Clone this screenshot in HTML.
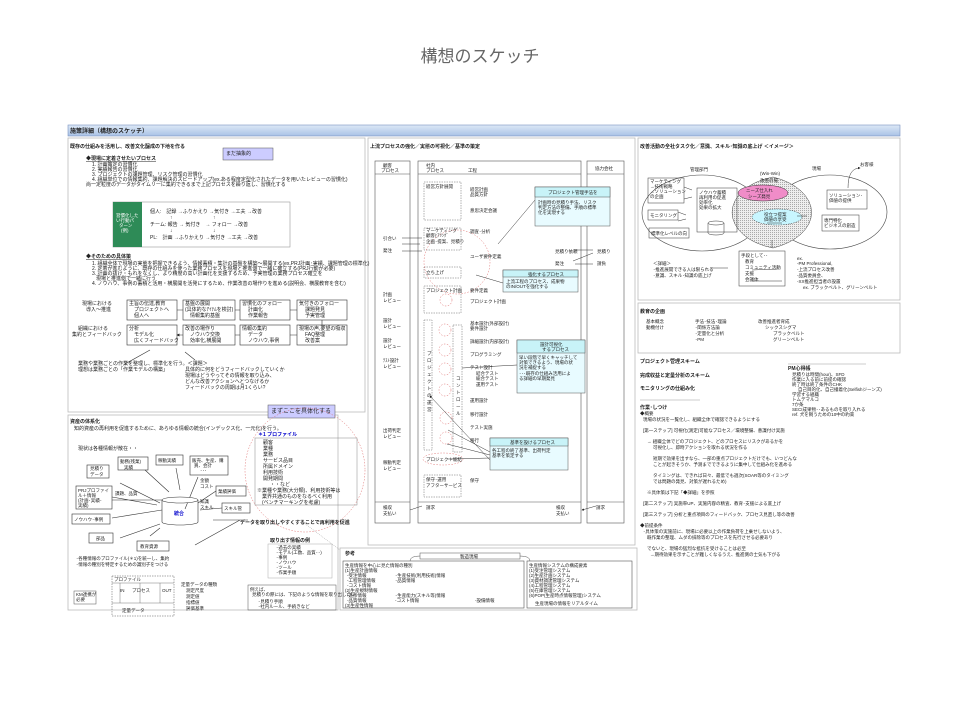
<!DOCTYPE html>
<html><head><meta charset="utf-8"><style>
html,body{margin:0;padding:0;background:#fff;width:960px;height:720px;overflow:hidden}
svg{display:block}
text{font-family:"Liberation Sans","Noto Sans CJK JP",sans-serif;font-size:5px;fill:#222}
.b{font-weight:bold}
.s{font-size:4.5px}
</style></head><body>
<svg width="960" height="720" viewBox="0 0 960 720" xmlns="http://www.w3.org/2000/svg">
<defs>
<marker id="a" markerWidth="5" markerHeight="5" refX="4" refY="2.5" orient="auto"><path d="M0,0L5,2.5L0,5z" fill="#222"/></marker>
<pattern id="h" width="2" height="2" patternUnits="userSpaceOnUse"><rect width="2" height="2" fill="#eee"/><rect width="1" height="1" fill="#aaa"/></pattern>
<linearGradient id="g" x1="0" y1="0" x2="0" y2="1"><stop offset="0" stop-color="#dde8f6"/><stop offset="1" stop-color="#a9c2e6"/></linearGradient>
</defs>
<text x="480" y="62" text-anchor="middle" style="font-size:17px;fill:#666">構想のスケッチ</text>

<!-- header bar -->
<rect x="68" y="125" width="832" height="11" fill="url(#g)" stroke="#7a93c0" stroke-width="0.6"/>
<text x="70" y="133" class="b" style="font-size:6px">施策詳細（構想のスケッチ）</text>

<g fill="none" stroke="#bbb" stroke-width="0.8">
<rect x="68" y="138" width="297" height="274"/>
<rect x="68" y="415" width="270" height="195"/>
<rect x="368" y="138" width="267" height="407"/>
<rect x="340" y="548" width="297" height="62"/>
<rect x="638" y="138" width="262" height="162"/>
<rect x="638" y="303" width="262" height="50"/>
</g>

<!-- ============ LEFT TOP ============ -->
<text x="70" y="148" class="b">既存の仕組みを活用し、改善文化醸成の下地を作る</text>
<rect x="223" y="148" width="50" height="12" fill="#ccccff" stroke="#555" stroke-width="0.5"/>
<text x="226" y="155">まだ抽象的</text>
<text x="86" y="160" class="b" text-decoration="underline">◆現場に定着させたいプロセス</text>
<text x="92" y="166">1. 計画策定の習慣化</text>
<text x="92" y="171">2. 実績報告の習慣化</text>
<text x="92" y="176">3. プロジェクトの課題管理、リスク管理の習慣化</text>
<text x="92" y="181">4. 組織単位での情報集約、課題解決のスピードアップ(ex.ある程度定型化されたデータを用いたレビューの習慣化)</text>
<text x="86" y="186">尚一定粒度のデータがタイムリーに集約できるまで上記プロセスを繰り返し、習慣化する</text>
<rect x="113" y="202" width="177" height="45" fill="none" stroke="#999" stroke-width="0.6"/>
<rect x="113" y="202" width="29" height="45" fill="#2e8b57"/>
<text x="116" y="217" style="fill:#fff" class="s">習慣化した</text>
<text x="116" y="222" style="fill:#fff" class="s">い行動パ</text>
<text x="119" y="227" style="fill:#fff" class="s">ターン</text>
<text x="121" y="232" style="fill:#fff" class="s">(例)</text>
<text x="150" y="213">個人:　記録 →ふりかえり →気付き →工夫 →改善</text>
<text x="150" y="226">チーム: 報告 → 気付き　→ フォロー →改善</text>
<text x="150" y="239">PL:　計画 →ふりかえり →気付き →工夫 →改善</text>
<text x="170" y="219">↑</text><text x="213" y="219">↑</text>
<text x="170" y="232">↓</text><text x="213" y="232">↓</text>
<text x="86" y="258" class="b" text-decoration="underline">◆そのための具体策</text>
<text x="92" y="265">1. 組織全体で現場の実態を把握できるよう、情報蓄積・集計の基盤を構築～展開する(ex.PRJ計画･実績、課題管理の標準化)</text>
<text x="92" y="270">2. 定着が進むように、既存の仕組みを使った業務プロセスを現場と推進側で一緒に確立する(PRJ行動が必要)</text>
<text x="92" y="275">3. 計画の抜け・もれをなくし、より精度の高い計画化を支援するため、予実管理の業務プロセス確立を</text>
<text x="96" y="280">現場と推進側で一緒に行う</text>
<text x="92" y="285">4. ノウハウ、事例の蓄積と活用・横展開を活発にするため、作業改善の場作りを進める(説明会、横展教育を含む)</text>
<g fill="none" stroke="#333" stroke-width="0.6">
<rect x="127" y="300" width="50" height="20"/><rect x="183" y="300" width="52" height="20"/><rect x="240" y="300" width="50" height="20"/><rect x="297" y="300" width="50" height="20"/>
<rect x="127" y="325" width="50" height="20"/><rect x="183" y="325" width="52" height="20"/><rect x="240" y="325" width="50" height="20"/><rect x="297" y="325" width="50" height="20"/>
<path d="M177 310h6M235 310h5M290 310h7M322 320v5M297 335h-7M240 335h-5M183 335h-6" marker-end="url(#a)"/>
<path d="M150 350l-25 14M185 352l10 8"/>
</g>
<text x="82" y="305">現場における</text><text x="86" y="311">導入〜推進</text>
<text x="78" y="330">組織における</text><text x="72" y="336">集約とフィードバック</text>
<text x="129" y="305">主旨の伝達,教育</text><text x="134" y="311">プロジェクトへ</text><text x="134" y="317">個人へ</text>
<text x="185" y="305">基盤の展開</text><text x="185" y="311">(具体的なｱｲﾃﾑを検討)</text><text x="190" y="317">情報集約基盤</text>
<text x="242" y="305">習慣化のフォロー</text><text x="248" y="311">計画化</text><text x="248" y="317">作業報告</text>
<text x="299" y="305">気付きのフォロー</text><text x="305" y="311">課題発見</text><text x="305" y="317">予実管理</text>
<text x="129" y="330">分析</text><text x="134" y="336">モデル化</text><text x="134" y="342">広くフィードバック</text>
<text x="185" y="330">改善の場作り</text><text x="190" y="336">ノウハウ交換</text><text x="190" y="342">効率化,横展開</text>
<text x="242" y="330">情報の集約</text><text x="248" y="336">データ</text><text x="248" y="342">ノウハウ,事例</text>
<text x="299" y="330">現場の声,要望の吸収</text><text x="305" y="336">FAQ整理</text><text x="305" y="342">改善案</text>
<text x="78" y="365">業務や業務ごとの作業を整理し、標準化を行う。＜課題＞</text>
<text x="78" y="371">理想は業務ごとの「作業モデルの構築」</text>
<text x="185" y="371">具体的に何をどうフィードバックしていくか</text>
<text x="185" y="377">現場はどうやってその情報を取り込み、</text>
<text x="185" y="383">どんな改善アクションへとつなげるか</text>
<text x="185" y="389">フィードバックの周期は月1くらい?</text>

<!-- ============ LEFT BOTTOM ============ -->
<text x="70" y="423" class="b">資産の体系化</text>
<text x="74" y="430">知的資産の再利用を促進するために、あらゆる情報の統合(インデックス化、一元化)を行う。</text>
<rect x="268" y="405" width="67" height="13" fill="#ccccff" stroke="#555" stroke-width="0.5"/>
<text x="271" y="413" style="font-size:6px">まずここを具体化する</text>
<ellipse cx="305" cy="470" rx="60" ry="62" fill="none" stroke="#d66" stroke-width="0.5" stroke-dasharray="1.5,1.5"/>
<text x="258" y="436" class="b" style="fill:#0000cc">＊1 プロファイル</text>
<rect x="255" y="438" width="102" height="67" fill="none" stroke="#888" stroke-width="0.5"/>
<text x="263" y="444">顧客</text><text x="263" y="450">業種</text><text x="263" y="456">業務</text><text x="263" y="462">サービス品目</text><text x="263" y="468">所属ドメイン</text><text x="263" y="474">利用技術</text><text x="263" y="480">開発期間</text><text x="270" y="486">・・など</text>
<text x="257" y="492">※業種や業務(大分類)、利用技術等は</text>
<text x="262" y="498">業界共通のものをなるべく利用</text>
<text x="262" y="504">(ベンチマーキングを考慮)</text>
<text x="78" y="450">現状は各種情報が散在・・</text>
<g fill="none" stroke="#333" stroke-width="0.6">
<rect x="87" y="465" width="22" height="13"/><rect x="118" y="457" width="30" height="13"/><rect x="156" y="455" width="27" height="10"/><rect x="190" y="456" width="38" height="19"/>
<rect x="76" y="486" width="36" height="23"/><rect x="72" y="514" width="38" height="10"/><rect x="89" y="533" width="24" height="10"/>
<rect x="137" y="541" width="32" height="10"/><rect x="216" y="486" width="30" height="10"/><rect x="222" y="503" width="28" height="10"/>
<path d="M162 500v22M198 500v22"/>
<path d="M120 483l40 20M145 470l24 22M176 468l4 22M198 477l-13 32M112 497l45 8M112 500h50M112 518l50-8M120 538l40-14M160 528l-10 8M216 491l-18 12M222 508l-22 2M213 520h35M195 545l45-25"/>
</g>
<ellipse cx="180" cy="500" rx="18" ry="3" fill="#fff" stroke="#333" stroke-width="0.6"/>
<path d="M162 522a18 3 0 0 0 36 0" fill="none" stroke="#333" stroke-width="0.6"/>
<text x="174" y="515" class="b" style="fill:#0000cc">統合</text>
<text x="90" y="470" class="s">見積り</text><text x="90" y="476" class="s">データ</text>
<text x="120" y="463" class="s">動務(残業)</text><text x="124" y="469" class="s">実績</text>
<text x="158" y="462" class="s">稼動実績</text>
<text x="192" y="462" class="s">販売、生産、購</text><text x="194" y="467" class="s">買、会計</text><text x="200" y="472" class="s">･･･</text>
<text x="78" y="492" class="s">PRJプロファイ</text><text x="78" y="497" class="s">ル＋情報</text><text x="78" y="502" class="s">(計画･実績･</text><text x="78" y="507" class="s">実績)</text>
<text x="115" y="495" class="s">課題、品質</text>
<text x="74" y="521" class="s">ノウハウ･事例</text><text x="96" y="540" class="s">部品</text><text x="140" y="548" class="s">教育資源</text>
<text x="200" y="482" class="s">金額</text><text x="200" y="488" class="s">コスト</text><text x="218" y="493" class="s">業績評価</text>
<text x="200" y="503" class="s">知識</text><text x="200" y="509" class="s">スキル</text><text x="224" y="510" class="s">スキル管</text>
<text x="240" y="524" class="b">データを取り出しやすくすることで再利用を促進</text>
<text x="76" y="560" class="s">･各種情報のプロファイル(＊1)を統一し、集約</text>
<text x="76" y="566" class="s">･情報の種別を特定するための識別子をつける</text>
<text x="270" y="542" class="b">取り出す情報の例</text>
<rect x="268" y="544" width="64" height="34" fill="none" stroke="#aaa" stroke-width="0.5"/>
<text x="276" y="549" class="s">･過去の実績</text><text x="276" y="554" class="s">･モデル(工数、品質･･)</text><text x="276" y="559" class="s">･事例</text><text x="276" y="564" class="s">･ノウハウ</text><text x="276" y="569" class="s">･ツール</text><text x="276" y="574" class="s">･作業手順</text>
<rect x="248" y="585" width="88" height="25" fill="none" stroke="#555" stroke-width="0.5"/>
<text x="250" y="591" class="s">例えば、</text><text x="252" y="596" class="s">見積りの際には、下記のような情報を取り出したい</text>
<text x="258" y="603" class="s">･見積り手順</text><text x="258" y="608" class="s">･社内ルール、手続きなど</text>
<rect x="112" y="576" width="62" height="40" fill="none" stroke="#555" stroke-width="0.5" stroke-dasharray="1.5,1"/>
<path d="M112 583h62M120 583v20M140 583v20M160 583v20M112 603h62" fill="none" stroke="#555" stroke-width="0.4"/>
<text x="114" y="581" class="s">プロファイル</text><text x="120" y="592" class="s">IN</text><text x="132" y="592" class="s">プロセス</text><text x="162" y="592" class="s">OUT</text>
<text x="122" y="612" class="s">定量データ</text>
<rect x="74" y="591" width="22" height="13" fill="none" stroke="#555" stroke-width="0.5"/>
<text x="76" y="596" class="s">KM連携が</text><text x="76" y="601" class="s">必要</text>
<text x="181" y="586" class="s">定量データの種類</text>
<text x="186" y="592" class="s">測定尺度</text><text x="186" y="598" class="s">測定値</text><text x="186" y="604" class="s">指標値</text><text x="186" y="610" class="s">評価基準</text>

<!-- ============ MIDDLE ============ -->
<text x="370" y="148" class="b">上流プロセスの強化／実態の可視化／基準の策定</text>
<g fill="none" stroke="#555" stroke-width="0.6">
<rect x="375" y="161" width="35" height="362"/><rect x="418" y="161" width="163" height="362"/><rect x="587" y="161" width="37" height="362"/>
<path d="M375 174h35M418 174h163M587 174h37M375 502h35M418 502h163M587 502h37"/>
</g>
<text x="383" y="167" class="s">顧客</text><text x="381" y="172" class="s">プロセス</text>
<text x="426" y="167" class="s">社内</text><text x="426" y="172" class="s">プロセス</text><text x="468" y="172" class="s">工程</text>
<text x="595" y="170" class="s">協力会社</text>
<g fill="none" stroke="#666" stroke-width="0.5" stroke-dasharray="1.5,1">
<rect x="424" y="182" width="37" height="38"/><rect x="424" y="228" width="37" height="22"/><rect x="424" y="267" width="37" height="11"/><rect x="424" y="286" width="37" height="27"/>
<rect x="424" y="320" width="8" height="130"/><rect x="453" y="325" width="9" height="127"/><rect x="424" y="475" width="37" height="22"/>
</g>
<g fill="none" stroke="#d66" stroke-width="0.5" stroke-dasharray="1.5,1.5">
<ellipse cx="457" cy="262" rx="33" ry="32"/>
<circle cx="446" cy="300" r="6"/><circle cx="445" cy="330" r="6"/><circle cx="445" cy="350" r="6"/><circle cx="445" cy="369" r="6"/><circle cx="445" cy="390" r="6"/><circle cx="446" cy="418" r="6"/><circle cx="446" cy="438" r="6"/>
<ellipse cx="443" cy="459" rx="20" ry="6"/>
</g>
<text x="426" y="188" class="s">経営方針展開</text><text x="426" y="232" class="s">マーケティング</text><text x="426" y="237" class="s">顧客ﾋｱﾘﾝｸﾞ</text><text x="426" y="243" class="s">企画･提案、見積り</text>
<text x="426" y="274" class="s">立ち上げ</text><text x="426" y="292" class="s">プロジェクト計画</text><text x="426" y="461" class="s">プロジェクト総結</text>
<text x="426" y="481" class="s">保守･運用</text><text x="426" y="487" class="s">アフターサービス</text>
<text x="470" y="191" class="s">経営計画</text><text x="470" y="196" class="s">品質方針</text><text x="470" y="212" class="s">意思決定会議</text>
<text x="470" y="233" class="s">調査･分析</text><text x="470" y="258" class="s">ユーザ要件定義</text><text x="470" y="292" class="s">要件定義</text><text x="470" y="303" class="s">プロジェクト計画</text>
<text x="470" y="325" class="s">基本設計(外部設計)</text><text x="470" y="330" class="s">要件設計</text><text x="470" y="343" class="s">詳細設計(内部設計)</text><text x="470" y="356" class="s">プログラミング</text>
<text x="470" y="369" class="s">テスト設計</text><text x="476" y="375" class="s">結合テスト</text><text x="476" y="380" class="s">総合テスト</text><text x="476" y="386" class="s">運用テスト</text>
<text x="470" y="402" class="s">運用設計</text><text x="470" y="416" class="s">移行設計</text><text x="470" y="429" class="s">テスト実施</text><text x="470" y="442" class="s">移行</text><text x="470" y="482" class="s">保守</text>
<text x="383" y="240" class="s">引合い</text><text x="383" y="252" class="s">発注</text>
<text x="383" y="296" class="s">計画</text><text x="383" y="302" class="s">レビュー</text>
<text x="383" y="322" class="s">設計</text><text x="383" y="328" class="s">レビュー</text><text x="383" y="342" class="s">設計</text><text x="383" y="348" class="s">レビュー</text>
<text x="383" y="362" class="s">ﾃｽﾄ設計</text><text x="383" y="368" class="s">レビュー</text>
<text x="383" y="432" class="s">出荷判定</text><text x="383" y="438" class="s">レビュー</text><text x="383" y="464" class="s">稼動判定</text><text x="383" y="470" class="s">レビュー</text>
<text x="383" y="509" class="s">検収</text><text x="383" y="515" class="s">支払い</text><text x="426" y="509" class="s">請求</text>
<text x="556" y="509" class="s">検収</text><text x="556" y="515" class="s">支払い</text><text x="596" y="509" class="s">請求</text>
<text x="555" y="253" class="s">見積り依頼</text><text x="597" y="253" class="s">見積り</text><text x="555" y="265" class="s">発注</text><text x="597" y="265" class="s">請負</text>
<text x="427" y="355" class="s">プ</text><text x="427" y="362" class="s">ロ</text><text x="427" y="369" class="s">ジ</text><text x="427" y="376" class="s">ェ</text><text x="427" y="383" class="s">ク</text><text x="427" y="390" class="s">ト</text><text x="427" y="397" class="s">の</text><text x="427" y="404" class="s">運</text><text x="427" y="411" class="s">営</text>
<text x="456" y="380" class="s">コ</text><text x="456" y="387" class="s">ン</text><text x="456" y="394" class="s">ト</text><text x="456" y="401" class="s">ロ</text><text x="456" y="408" class="s">ー</text><text x="456" y="415" class="s">ル</text>
<g fill="none" stroke="#333" stroke-width="0.5">
<path d="M402 238h20M420 244h-18M402 251h20M575 250h18M593 253l-20 8M575 264h18M422 506l-12 4M596 506l-14 4" marker-end="url(#a)"/>
<path d="M535 200l-37 44M503 283l-27-8M517 365l-55 3M490 452l-42 -22M490 455l-43-11M490 458l-42 1M490 460l-60-64" marker-end="url(#a)"/>
</g>
<g stroke="#555" stroke-width="0.5">
<rect x="535" y="187" width="75" height="39" fill="#e8fbff"/><rect x="535" y="187" width="75" height="10" fill="#c8f3f8"/>
<rect x="503" y="270" width="75" height="22" fill="#e8fbff"/><rect x="503" y="270" width="75" height="7" fill="#c8f3f8"/>
<rect x="517" y="340" width="68" height="53" fill="#e8fbff"/><rect x="517" y="340" width="68" height="13" fill="#c8f3f8"/>
<rect x="490" y="438" width="78" height="32" fill="#e8fbff"/><rect x="490" y="438" width="78" height="8" fill="#c8f3f8"/>
</g>
<text x="548" y="194" class="s">プロジェクト管理手法を</text>
<text x="538" y="204" class="s">計画時の見積り手法、リスク</text><text x="538" y="209" class="s">判定方法の整備、手順の標準</text><text x="538" y="214" class="s">化を実現する</text>
<text x="528" y="276" class="s">強化するプロセス</text>
<text x="506" y="283" class="s">上流工程のプロセス、成果物</text><text x="506" y="288" class="s">のIN/OUTを強化する</text>
<text x="540" y="346" class="s">設計可視化</text><text x="542" y="351" class="s">するプロセス</text>
<text x="519" y="359" class="s">早い段階で早くキャッチして</text><text x="519" y="364" class="s">対策できるよう、現場の状</text><text x="519" y="369" class="s">況を補捉する</text><text x="519" y="375" class="s">･･･既存の仕組み活用によ</text><text x="519" y="380" class="s">る詳細の早期発見</text>
<text x="510" y="444" class="s">基準を設けるプロセス</text>
<text x="492" y="452" class="s">各工程の終了基準、出荷判定</text><text x="492" y="457" class="s">基準を策定する</text>

<!-- reference -->
<path d="M300 520 L340 550" stroke="#777" stroke-width="0.4" stroke-dasharray="1,1" fill="none"/>
<text x="345" y="555" class="b">参考</text>
<rect x="420" y="553" width="100" height="6" fill="#fff" stroke="#555" stroke-width="0.5"/>
<text x="460" y="558" class="s">製造現場</text>
<path d="M420 556q-10 0-10 5M520 556q10 0 10 5" fill="none" stroke="#555" stroke-width="0.5"/>
<rect x="343" y="561" width="181" height="47" fill="none" stroke="#555" stroke-width="0.6"/>
<rect x="527" y="561" width="105" height="47" fill="none" stroke="#555" stroke-width="0.6"/>
<text x="345" y="567" class="s">生産情報を中心に見た情報の種別</text>
<text x="345" y="572" class="s">(1)生産計画情報</text>
<text x="347" y="577" class="s">-受注情報</text><text x="395" y="577" class="s">･生産技術(利用技術)情報</text>
<text x="347" y="582" class="s">-工程管理情報</text><text x="395" y="582" class="s">･品質情報</text>
<text x="347" y="587" class="s">-コスト情報</text>
<text x="345" y="592" class="s">(2)生産規制情報</text>
<text x="347" y="597" class="s">-進捗情報</text><text x="395" y="597" class="s">･生産能力(スキル等)情報</text>
<text x="347" y="602" class="s">-品質情報</text><text x="395" y="602" class="s">-コスト情報</text><text x="475" y="602" class="s">-設備情報</text>
<text x="345" y="607" class="s">(3)生産性情報</text>
<text x="529" y="567" class="s">生産情報システムの構成要素</text>
<text x="529" y="572" class="s">(1)受注管理システム</text><text x="529" y="577" class="s">(2)生産計画システム</text><text x="529" y="582" class="s">(3)資材調達管理システム</text>
<text x="529" y="587" class="s">(4)工程管理システム</text><text x="529" y="592" class="s">(5)在庫管理システム</text><text x="529" y="597" class="s">(6)POP(生産時点情報管理)システム</text>
<text x="535" y="605" class="s">生産現場の情報をリアルタイム</text>

<!-- ============ RIGHT ============ -->
<text x="640" y="148" class="b">改善活動の全社タスク化／意識、スキル･知識の底上げ ＜イメージ＞</text>
<ellipse cx="702" cy="213" rx="60" ry="38" fill="none" stroke="#444" stroke-width="0.6"/>
<ellipse cx="830" cy="212" rx="57" ry="37" fill="none" stroke="#444" stroke-width="0.6"/>
<path d="M773 177a57 37 0 0 0 0 71a60 38 0 0 0 0-71z" fill="url(#h)" stroke="#444" stroke-width="0.5"/>
<ellipse cx="763" cy="193" rx="25" ry="8" fill="#f08cc8" stroke="#333" stroke-width="0.5"/>
<ellipse cx="777" cy="217" rx="25" ry="8" fill="#c8f6ff" stroke="#333" stroke-width="0.5" stroke-dasharray="1.5,1"/>
<text x="746" y="192" class="s">ニーズ仕入れ</text><text x="748" y="198" class="s">シーズ発見</text>
<text x="764" y="216" class="s">役立つ提案</text><text x="764" y="221" class="s">価値の享受</text>
<text x="760" y="175" class="s">(Win-Win)</text><text x="760" y="182" class="s">改善の場</text>
<text x="690" y="171" class="s">管理部門</text><text x="812" y="170" class="s">現場</text><text x="860" y="166" class="s">お客様</text>
<g fill="none" stroke="#333" stroke-width="0.5">
<rect x="648" y="178" width="36" height="25"/><rect x="648" y="210" width="30" height="10"/><rect x="649" y="228" width="40" height="10"/>
<rect x="697" y="188" width="40" height="44"/><rect x="827" y="190" width="40" height="19"/><rect x="822" y="215" width="37" height="16"/>
<rect x="739" y="251" width="46" height="35"/>
<path d="M708 223v10a8 2 0 0 0 16 0v-10"/><ellipse cx="716" cy="223" rx="8" ry="2"/>
<path d="M767 223h15M797 216h10M772 240v8M684 187l8 3M692 197l-8 2M678 212l8 3M686 219l-8 2M728 268h-18M752 270l25-1M752 281h30M848 188q0-20 12-20" marker-end="url(#a)"/>
</g>
<text x="650" y="183" class="s">マーケティング</text><text x="650" y="188" class="s">→技術戦略</text><text x="650" y="193" class="s">→ソリューション</text><text x="650" y="198" class="s">の企画</text>
<text x="650" y="217" class="s">モニタリング</text><text x="651" y="235" class="s">標準化レベルの向</text>
<text x="699" y="194" class="s">ノウハウ蓄積</text><text x="699" y="199" class="s">再利用の促進</text><text x="699" y="204" class="s">効率化</text><text x="699" y="209" class="s">効果の拡大</text>
<text x="829" y="197" class="s">ソリューション･</text><text x="829" y="202" class="s">価値の提供</text>
<text x="824" y="222" class="s">専門特化</text><text x="824" y="227" class="s">ビジネスの創造</text>
<text x="741" y="257" class="s">手段として･･</text><text x="745" y="263" class="s">教育</text><text x="745" y="269" class="s">コミュニティ活動</text><text x="745" y="275" class="s">支援</text><text x="745" y="281" class="s">会議体</text>
<text x="653" y="265" class="s">＜詳細＞</text><text x="653" y="271" class="s">･推進展開できる人は限られる</text><text x="653" y="277" class="s">･意識、スキル･知識の底上げ</text>
<text x="797" y="260" class="s">ex.</text><text x="797" y="265" class="s">-PM Professional,</text><text x="797" y="271" class="s">-上流プロセス改善</text><text x="797" y="277" class="s">-品質委員会、</text><text x="797" y="283" class="s">-XX推進担当者の設置</text><text x="803" y="289" class="s">ex. ブラックベルト、グリーンベルト</text>

<text x="640" y="313" class="b">教育の企画</text>
<text x="646" y="323" class="s">基本概念</text><text x="646" y="329" class="s">動機付け</text>
<text x="695" y="323" class="s">手法･技法･理論</text><text x="695" y="329" class="s">･関係方法論</text><text x="695" y="335" class="s">･定量化と分析</text><text x="695" y="341" class="s">･PM</text>
<text x="758" y="323" class="s">改善推進者育成</text><text x="765" y="329" class="s">シックスシグマ</text><text x="773" y="335" class="s">ブラックベルト</text><text x="773" y="341" class="s">グリーンベルト</text>

<text x="640" y="363" class="b">プロジェクト管理スキーム</text>
<text x="640" y="377" class="b">完成収益と定量分析のスキーム</text>
<text x="640" y="390" class="b">モニタリングの仕組み化</text>
<path d="M788 364h78" stroke="#ccc" stroke-width="1"/>
<text x="788" y="370" class="b">PM心得帳</text>
<text x="792" y="376" class="s">見積りは時間(hour)、SFD</text><text x="792" y="381" class="s">作業に入る前に前提の確認</text><text x="792" y="386" class="s">終了時は終了条件のCHK</text>
<text x="798" y="391" class="s">自己目的化、自己撞着化(Selfishジーンズ)</text><text x="792" y="396" class="s">学習する組織</text><text x="792" y="401" class="s">トムデマルコ</text><text x="792" y="406" class="s">7か条</text><text x="792" y="411" class="s">SECI成果物･･あるものを取り入れる</text><text x="792" y="416" class="s">ref. 犬を飼うための10中の約束</text>
<path d="M640 400h60" stroke="#ccc" stroke-width="1"/>
<text x="640" y="409" class="b">作業･しつけ</text>
<text x="640" y="415" class="s">◆概要</text>
<text x="643" y="421" class="s">現場の状況を一覧化し、組織全体で確認できるようにする</text>
<text x="643" y="432" class="s">[第一ステップ] 可視化(測定)可能なプロセス／環境整備、意識付け実施</text>
<text x="647" y="443" class="s">→ 組織全体でどのプロジェクト、どのプロセスにリスクがあるかを</text>
<text x="653" y="449" class="s">可視化し、即時アクションを取れる状況を作る</text>
<text x="653" y="460" class="s">短期で効果を出すなら、一部の重点プロジェクトだけでも、いつどんな</text>
<text x="653" y="466" class="s">ことが起きそうか、予測までできるように集中して仕組み化を進める</text>
<text x="653" y="477" class="s">タイミングは、できれば日々、最低でも週次(SOAR等のタイミング</text>
<text x="653" y="483" class="s">では問題の発見、対策が遅れるため)</text>
<text x="647" y="494" class="s">※具体策は下記「◆詳細」を参照</text>
<text x="643" y="505" class="s">[第二ステップ] 実施率UP、実施内容の精査、教育･支援による底上げ</text>
<text x="643" y="516" class="s">[第三ステップ] 分析と重点項目のフィードバック、プロセス見直し等の改善</text>
<text x="640" y="527" class="s">◆前提条件</text>
<text x="643" y="533" class="s">･具体策の実施前に、現場に必要以上の作業負荷を上乗せしないよう、</text>
<text x="647" y="539" class="s">既作業の整理、ムダの排除等のプロセスを先行させる必要あり</text>
<text x="647" y="550" class="s">でないと、現場の猛烈な抵抗を受けることは必至</text>
<text x="650" y="556" class="s">→期待効果を示すことが難しくなるうえ、推進側の士気も下がる</text>
</svg>
</body></html>
